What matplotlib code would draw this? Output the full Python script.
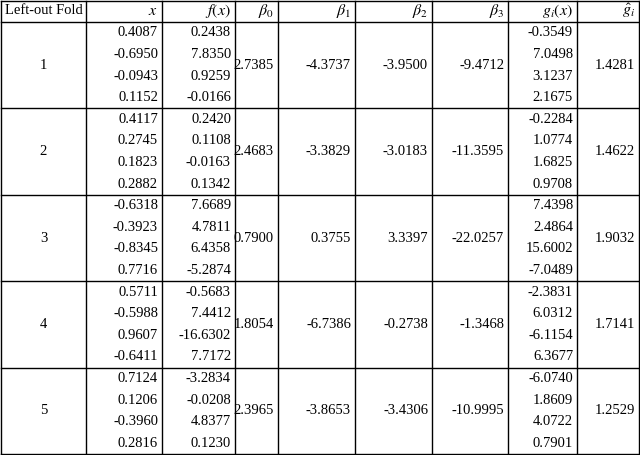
import matplotlib
matplotlib.use("Agg")
import matplotlib.pyplot as plt

headers = ["Left-out Fold", r"$x$", r"$f(x)$", r"$\beta_0$", r"$\beta_1$", r"$\beta_2$", r"$\beta_3$", r"$g_i(x)$", r"$\hat{g}_i$"]
folds = ["1", "2", "3", "4", "5"]
xs = [["0.4087", "-0.6950", "-0.0943", "0.1152"],
      ["0.4117", "0.2745", "0.1823", "0.2882"],
      ["-0.6318", "-0.3923", "-0.8345", "0.7716"],
      ["0.5711", "-0.5988", "0.9607", "-0.6411"],
      ["0.7124", "0.1206", "-0.3960", "0.2816"]]
fx = [["0.2438", "7.8350", "0.9259", "-0.0166"],
      ["0.2420", "0.1108", "-0.0163", "0.1342"],
      ["7.6689", "4.7811", "6.4358", "-5.2874"],
      ["-0.5683", "7.4412", "-16.6302", "7.7172"],
      ["-3.2834", "-0.0208", "4.8377", "0.1230"]]
beta0 = ["2.7385", "2.4683", "0.7900", "1.8054", "2.3965"]
beta1 = ["-4.3737", "-3.3829", "0.3755", "-6.7386", "-3.8653"]
beta2 = ["-3.9500", "-3.0183", "3.3397", "-0.2738", "-3.4306"]
beta3 = ["-9.4712", "-11.3595", "-22.0257", "-1.3468", "-10.9995"]
gx = [["-0.3549", "7.0498", "3.1237", "2.1675"],
      ["-0.2284", "1.0774", "1.6825", "0.9708"],
      ["7.4398", "2.4864", "15.6002", "-7.0489"],
      ["-2.3831", "6.0312", "-6.1154", "6.3677"],
      ["-6.0740", "1.8609", "4.0722", "0.7901"]]
ghat = ["1.4281", "1.4622", "1.9032", "1.7141", "1.2529"]

W, H = 640, 455
plt.rcParams["mathtext.fontset"] = "stix"
fig = plt.figure(figsize=(W/100, H/100), dpi=100)
ax = fig.add_axes([0, 0, 1, 1])
ax.set_xlim(0, W); ax.set_ylim(H, 0); ax.axis("off")
fam = "Liberation Serif"
fs = 10.5
cols = [1, 86, 162, 235, 278, 355, 432, 508, 577, 639]
hdr_bot = 22
rows = [hdr_bot + i * (H - 1 - hdr_bot) / 5 for i in range(6)]
lw = 1.0
for c in cols:
    ax.plot([c, c], [1, H - 1], color="black", lw=lw)
for r in [1] + rows:
    ax.plot([1, 639], [r, r], color="black", lw=lw)
pad = 4
for j, h in enumerate(headers):
    if j == 0:
        ax.text((cols[0] + cols[1]) / 2, hdr_bot / 2, h, ha="center", va="center", family=fam, fontsize=fs)
    else:
        ax.text(cols[j + 1] - pad, hdr_bot / 2, h, ha="right", va="center", family=fam, fontsize=fs + 1)
for i in range(5):
    top, bot = rows[i], rows[i + 1]
    mid = (top + bot) / 2
    sub = (bot - top) / 4
    ax.text((cols[0] + cols[1]) / 2, mid, folds[i], ha="center", va="center", family=fam, fontsize=fs)
    for j, v in enumerate([beta0[i], beta1[i], beta2[i], beta3[i]]):
        ax.text(cols[4 + j] - pad, mid, v, ha="right", va="center", family=fam, fontsize=fs)
    ax.text(cols[9] - pad, mid, ghat[i], ha="right", va="center", family=fam, fontsize=fs)
    for k in range(4):
        y = top + sub * (k + 0.5)
        ax.text(cols[2] - pad, y, xs[i][k], ha="right", va="center", family=fam, fontsize=fs)
        ax.text(cols[3] - pad, y, fx[i][k], ha="right", va="center", family=fam, fontsize=fs)
        ax.text(cols[8] - pad, y, gx[i][k], ha="right", va="center", family=fam, fontsize=fs)
fig.savefig("out.png", dpi=100)
